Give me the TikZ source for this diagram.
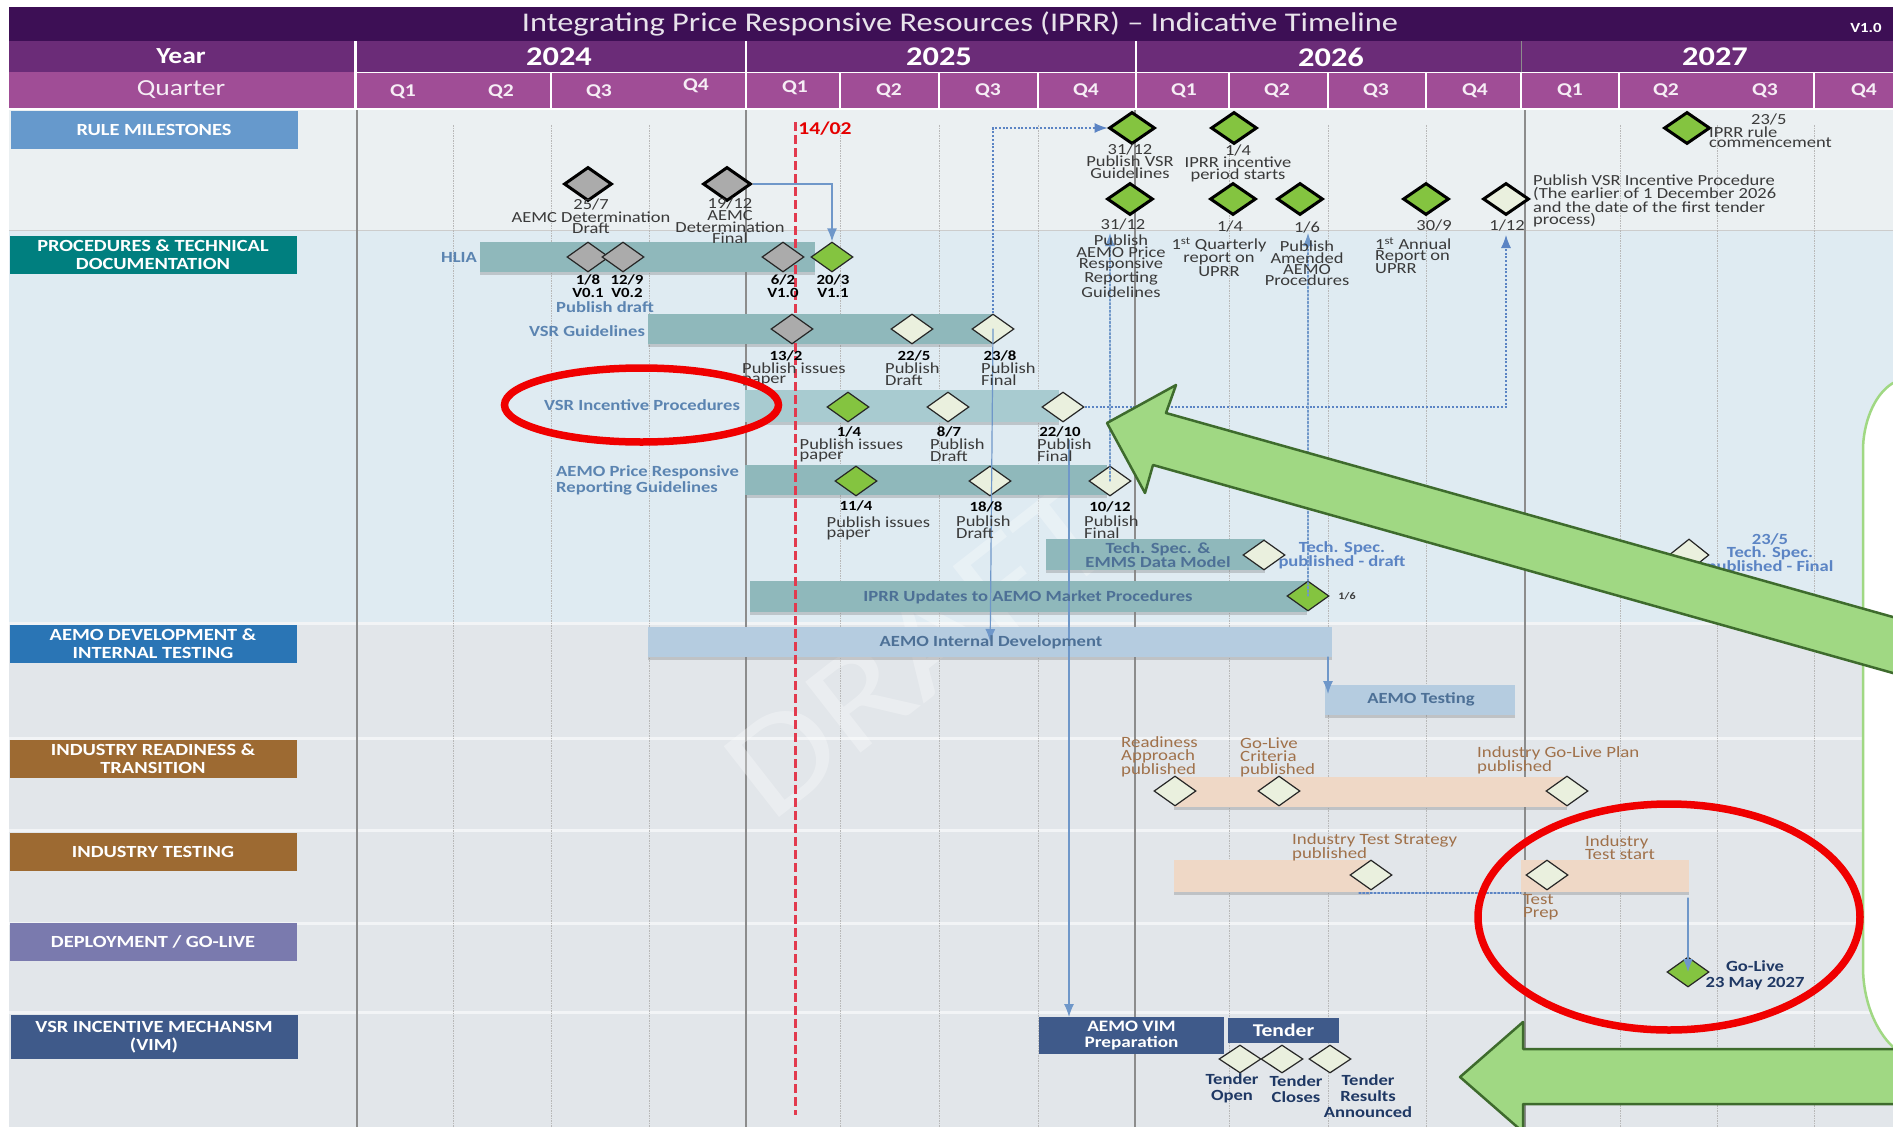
\documentclass[tikz,border=0pt]{standalone}
\usepackage{fontspec}
\setmainfont[FakeStretch=1.2]{Carlito}
\usetikzlibrary{arrows,arrows.meta,calc,shapes.geometric,shadows}
\usepackage{tkz-euclide}
\definecolor{TitleClr}{HTML}{3D0F55}
\definecolor{YearClr}{HTML}{6B2C78}
\definecolor{QuarterClr}{HTML}{A04D96}
\definecolor{RowOneClr}{HTML}{EBF0F2}
\definecolor{RowTwoClr}{HTML}{DFEBF2}
\definecolor{RowThreeClr}{HTML}{E2E6EA}
\definecolor{RuleClr}{HTML}{6699CC}
\definecolor{ProcClr}{HTML}{007F7F}
\definecolor{DevClr}{HTML}{2A75B5}
\definecolor{BrownClr}{HTML}{9D6A32}
\definecolor{DeployClr}{HTML}{7A7AAE}
\definecolor{VimClr}{HTML}{3F5A8A}
\definecolor{BarTealClr}{HTML}{8FB8BB}
\definecolor{BarPaleClr}{HTML}{A8CBD0}
\definecolor{BarBlueClr}{HTML}{B5CCE0}
\definecolor{BarSandClr}{HTML}{EFD8C6}
\definecolor{GreenClr}{HTML}{84C440}
\definecolor{GreyClr}{HTML}{ABABAB}
\definecolor{PaleClr}{HTML}{EAF0DE}
\definecolor{LinkClr}{HTML}{6F97C9}
\definecolor{DotClr}{HTML}{5B84C4}
\definecolor{BlueTxtClr}{HTML}{5B84B1}
\definecolor{NavyTxtClr}{HTML}{1F3864}
\definecolor{BrownTxtClr}{HTML}{A0714A}
\definecolor{DarkTxtClr}{HTML}{3A3A3A}
\definecolor{RingClr}{HTML}{F00000}
\definecolor{TodayClr}{HTML}{E23A4E}
\definecolor{CalloutClr}{HTML}{A0D883}
\definecolor{CalloutEdgeClr}{HTML}{3E6B2D}

\begin{document}
\begin{tikzpicture}[x=1pt,y=-1pt,
  MileBase/.style={diamond,draw=black!85,line width=1.2pt,minimum width=42,minimum height=30,inner sep=0pt},
  MileGreen/.style={MileBase,fill=GreenClr},
  MileGrey/.style={MileBase,fill=GreyClr},
  MilePale/.style={MileBase,fill=PaleClr},
  MileBold/.style={draw=black,line width=3pt,minimum width=46,minimum height=32},
  LblTxt/.style={inner sep=0pt,align=center,text=DarkTxtClr,font=\fontsize{15.4}{10.5}\selectfont},
  LblLeft/.style={LblTxt,anchor=west,align=left},
  LblBold/.style={LblTxt,text=black,font=\fontsize{14}{13}\selectfont\bfseries},
  LblBlue/.style={inner sep=0pt,align=center,text=BlueTxtClr,font=\fontsize{15.5}{16}\selectfont\bfseries},
  LblBrown/.style={LblLeft,text=BrownTxtClr,font=\fontsize{15.7}{13}\selectfont},
  LblNavy/.style={inner sep=0pt,align=center,text=NavyTxtClr,font=\fontsize{15.5}{16}\selectfont\bfseries},
  HeadTxt/.style={inner sep=0pt,text=white,font=\fontsize{23}{23}\selectfont\bfseries},
  YearTxt/.style={HeadTxt,font=\fontsize{27}{27}\selectfont\bfseries},
  QuarterTxt/.style={inner sep=0pt,text=white!90!QuarterClr,font=\fontsize{18}{18}\selectfont\bfseries},
  SectBox/.style={inner sep=0pt,align=center,minimum width=287,minimum height=38,text=white,font=\fontsize{17}{18}\selectfont\bfseries},
  BarBox/.style={rectangle,inner sep=0pt,anchor=west,minimum height=30,drop shadow={shadow xshift=0pt,shadow yshift=-3pt,opacity=.35}},
  VimBox/.style={rectangle,inner sep=0pt,fill=VimClr,text=white,align=center,font=\fontsize{16}{16}\selectfont\bfseries},
  GridDot/.style={line width=.9pt,color=black!28,dashed,dash pattern=on 1.5pt off 1pt},
  GridSolid/.style={line width=1.2pt,color=black!45},
  RowLine/.style={line width=3pt,color=white!55!RowThreeClr},
  LinkTip/.style={-{Latex[length=13pt,width=10pt]}},
  BlueLink/.style={line width=1.2pt,color=LinkClr,LinkTip},
  DotLink/.style={line width=1.1pt,color=DotClr,dashed,dash pattern=on 2pt off 1.75pt},
  RedRing/.style={draw=RingClr,line width=7.5pt}]
\useasboundingbox (0,0) rectangle (1893,1127);
\fill[white] (0,0) rectangle (1893,1127);

\tkzSetUpLine[line width=1pt,color=LinkClr]

\fill[RowOneClr] (9,110) rectangle (1893,230);
\fill[RowTwoClr] (9,230) rectangle (1893,623);
\fill[RowThreeClr] (9,623) rectangle (1893,1127);

\fill[TitleClr] (9,7) rectangle (1893,41);
\fill[YearClr] (9,41) rectangle (354,72);
\fill[YearClr] (357,41) rectangle (1893,72);
\fill[QuarterClr] (9,72) rectangle (354,108);
\fill[QuarterClr] (357,73) rectangle (1893,108);
\draw[white,line width=1.5pt] (357,72.5)--(1136,72.5) (746,41)--(746,108) (1136,41)--(1136,108) (551,73)--(551,108) (840,73)--(840,108) (939,73)--(939,108) (1038,73)--(1038,108) (1229,73)--(1229,108) (1328,73)--(1328,108) (1426,73)--(1426,108) (1521,73)--(1521,108) (1619,73)--(1619,108) (1814,73)--(1814,108);
\draw[black!45,line width=1pt] (1521,41)--(1521,72);

\draw[RowLine] (9,738)--(1893,738) (9,830)--(1893,830) (9,923)--(1893,923) (9,1012)--(1893,1012) (9,623)--(1893,623);
\draw[black!20,line width=1.5pt] (9,230.5)--(1893,230.5);
\draw[GridDot] (453,125)--(453,1127) (551,125)--(551,1127) (649,125)--(649,1127) (840,125)--(840,1127) (939,125)--(939,1127) (1038,125)--(1038,1127) (1229,125)--(1229,1127) (1328,125)--(1328,1127) (1426,125)--(1426,1127) (1620,125)--(1620,1127) (1717,125)--(1717,1127) (1814,125)--(1814,1127);
\draw[GridSolid] (357,110)--(357,1127) (746,110)--(746,1127) (1135,110)--(1135,1127) (1525,110)--(1525,1127);

\node[rotate=38,inner sep=0pt,text=white,opacity=.3,font=\fontsize{140}{140}\selectfont] (Watermark) at (920,650) {DRAFT};

\node[inner sep=0pt,text=white!88!TitleClr,font=\fontsize{27}{27}\selectfont] (Title) at (960,24) {Integrating Price Responsive Resources (IPRR) -- Indicative Timeline};
\node[inner sep=0pt,text=white,font=\fontsize{14}{14}\selectfont\bfseries] (Version) at (1866,28) {V1.0};
\node[HeadTxt] (Year) at (181,56) {Year};
\node[YearTxt] (YearA) at (559,57) {2024};
\node[YearTxt] (YearB) at (939,57) {2025};
\node[YearTxt] (YearC) at (1331,57) {2026};
\node[YearTxt] (YearD) at (1715,57) {2027};
\node[QuarterTxt,font=\fontsize{23}{23}\selectfont] (Quarter) at (181,90) {Quarter};
\node[QuarterTxt] (QaA) at (403,92) {Q1};
\node[QuarterTxt] (QaB) at (501,92) {Q2};
\node[QuarterTxt] (QaC) at (599,92) {Q3};
\node[QuarterTxt] (QaD) at (696,86) {Q4};
\node[QuarterTxt] (QbA) at (795,88) {Q1};
\node[QuarterTxt] (QbB) at (889,91) {Q2};
\node[QuarterTxt] (QbC) at (988,91) {Q3};
\node[QuarterTxt] (QbD) at (1086,91) {Q4};
\node[QuarterTxt] (QcA) at (1184,91) {Q1};
\node[QuarterTxt] (QcB) at (1277,91) {Q2};
\node[QuarterTxt] (QcC) at (1376,91) {Q3};
\node[QuarterTxt] (QcD) at (1475,91) {Q4};
\node[QuarterTxt] (QdA) at (1570,91) {Q1};
\node[QuarterTxt] (QdB) at (1666,91) {Q2};
\node[QuarterTxt] (QdC) at (1765,91) {Q3};
\node[QuarterTxt] (QdD) at (1864,91) {Q4};

\node[SectBox,fill=RuleClr] (SecRule) at (154,130) {RULE MILESTONES};
\node[SectBox,fill=ProcClr] (SecProc) at (153,254.5) {PROCEDURES \& TECHNICAL\\DOCUMENTATION};
\node[SectBox,fill=DevClr] (SecDev) at (153,644) {AEMO DEVELOPMENT \&\\INTERNAL TESTING};
\node[SectBox,fill=BrownClr] (SecReady) at (153,758.5) {INDUSTRY READINESS \&\\TRANSITION};
\node[SectBox,fill=BrownClr] (SecTest) at (153,852) {INDUSTRY TESTING};
\node[SectBox,fill=DeployClr] (SecDeploy) at (153,941.5) {DEPLOYMENT / GO-LIVE};
\node[SectBox,fill=VimClr,minimum height=44] (SecVim) at (154,1037) {VSR INCENTIVE MECHANSM\\(VIM)};

\node[BarBox,fill=BarTealClr,minimum width=335] (BarHlia) at (480,257) {};
\node[BarBox,fill=BarTealClr,minimum width=344] (BarGuide) at (648,329) {};
\node[BarBox,fill=BarPaleClr,minimum width=314,minimum height=32] (BarInc) at (745,406) {};
\node[BarBox,fill=BarTealClr,minimum width=362] (BarPrice) at (745,480) {};
\node[BarBox,fill=BarTealClr,minimum width=219,minimum height=31] (BarTech) at (1046,554.5) {};
\node[BarBox,fill=BarTealClr,minimum width=557,minimum height=31] (BarIprr) at (750,596.5) {};
\node[BarBox,fill=BarBlueClr,minimum width=684] (BarDev) at (648,642) {};
\node[BarBox,fill=BarBlueClr,minimum width=190] (BarAemo) at (1325,700) {};
\node[BarBox,fill=BarSandClr,minimum width=393] (BarReady) at (1174,792) {};
\node[BarBox,fill=BarSandClr,minimum width=196,minimum height=32] (BarTestA) at (1174,876) {};
\node[BarBox,fill=BarSandClr,minimum width=168,minimum height=32] (BarTestB) at (1521,876) {};

\node[VimBox,minimum width=185,minimum height=37] (BoxVim) at (1131.5,1035.5) {AEMO VIM\\Preparation};
\node[VimBox,minimum width=111,minimum height=25,font=\fontsize{18}{18}\selectfont\bfseries] (BoxTender) at (1283.5,1030.5) {Tender};

\draw[TodayClr,line width=3pt,dashed,dash pattern=on 9pt off 4pt] (795,122)--(795,1115);
\node[inner sep=0pt,text=red!90!black,font=\fontsize{18}{18}\selectfont\bfseries] (TxtToday) at (825,129) {14/02};

\tkzDefPoints{1069/440/VimStart,1069/1017/VimEnd,1506/235/IncTip,1110/233/PriceTip,1308/233/AmendTip,1359/893/TestLeft,1521/893/TestRight,1688/898/GoStart,1328/657/AemoStart,1328/694/AemoEnd}

\node[MileBase,MileGrey,MileBold,minimum width=48,minimum height=34] (MDraft) at (588,184) {};
\node[MileBase,MileGrey,MileBold,minimum width=48,minimum height=34] (MFinal) at (727,184) {};
\node[MileBase,MileGreen,MileBold] (MVsr) at (1132,128) {};
\node[MileBase,MileGreen,MileBold] (MPeriod) at (1234,128) {};
\node[MileBase,MileGreen,MileBold] (MCommence) at (1687,128) {};
\node[MileBase,MileGreen,MileBold] (MPrice) at (1130,199) {};
\node[MileBase,MileGreen,MileBold] (MReport) at (1233,199) {};
\node[MileBase,MileGreen,MileBold] (MAmend) at (1300,199) {};
\node[MileBase,MileGreen,MileBold] (MAnnual) at (1426,199) {};
\node[MileBase,MilePale,MileBold] (MPubInc) at (1506,199) {};

\node[MileGrey] (MHliaA) at (588,257) {};
\node[MileGrey] (MHliaB) at (623,257) {};
\node[MileGrey] (MHliaC) at (783,257) {};
\node[MileGreen] (MHliaD) at (832,257) {};
\node[MileGrey] (MGuideA) at (792,329) {};
\node[MilePale] (MGuideB) at (912,329) {};
\node[MilePale] (MGuideC) at (993,329) {};
\node[MileGreen] (MIncA) at (848,407) {};
\node[MilePale] (MIncB) at (948,407) {};
\node[MilePale] (MIncC) at (1063,407) {};
\node[MileGreen] (MPriceA) at (856,481) {};
\node[MilePale] (MPriceB) at (990,481) {};
\node[MilePale] (MPriceC) at (1110,481) {};
\node[MilePale] (MTechA) at (1264,555) {};
\node[MilePale,minimum width=40,minimum height=32] (MTechB) at (1689,555) {};
\node[MileGreen] (MIprr) at (1308,596) {};
\node[MilePale] (MReadyA) at (1175,791) {};
\node[MilePale] (MReadyB) at (1279,791) {};
\node[MilePale] (MReadyC) at (1567,791) {};
\node[MilePale] (MTestA) at (1371,875) {};
\node[MilePale] (MTestB) at (1547,875) {};
\node[MileGreen] (MGoLive) at (1688,972) {};
\node[MilePale,minimum height=28] (MTendA) at (1240,1059) {};
\node[MilePale,minimum height=28] (MTendB) at (1282,1059) {};
\node[MilePale,minimum height=28] (MTendC) at (1330,1059) {};

\draw[BlueLink] (MFinal.east) -| (MHliaD.north);
\draw[DotLink,LinkTip] (MGuideC.north) |- (MVsr.west);
\draw[DotLink,LinkTip] (MIncC.east) -| (IncTip);
\tkzDrawSegments[DotLink,LinkTip,color=LinkClr](MPriceC,PriceTip MIprr,AmendTip)
\tkzDrawSegments[DotLink](TestLeft,TestRight)
\tkzDrawSegments[BlueLink](MGuideC,BarDev VimStart,VimEnd AemoStart,AemoEnd GoStart,MGoLive)

\node[LblTxt] (TxtDraft) at (591,216.5) {25/7\\AEMC Determination\\Draft};
\node[LblTxt] (TxtFinal) at (730,221) {19/12\\AEMC\\Determination\\Final};
\node[LblTxt] (TxtVsr) at (1130,161) {31/12\\Publish VSR\\Guidelines};
\node[LblTxt] (TxtPeriod) at (1238,163.5) {1/4\\IPRR incentive\\period starts};
\node[LblLeft] (TxtCommence) at (1709,131) {\hspace*{42pt}23/5\\IPRR rule\\commencement};
\node[LblTxt] (TxtPriceDate) at (1123,224) {31/12};
\node[LblTxt] (TxtPrice) at (1121,266) {Publish\\AEMO Price\\Responsive\\Reporting\\Guidelines};
\node[LblTxt] (TxtReportDate) at (1230,226) {1/4};
\node[LblTxt] (TxtReport) at (1219,257) {1\textsuperscript{st} Quarterly\\report on\\UPRR};
\node[LblTxt] (TxtAmendDate) at (1307,227) {1/6};
\node[LblTxt] (TxtAmend) at (1307,263.5) {Publish\\Amended\\AEMO\\Procedures};
\node[LblTxt] (TxtAnnualDate) at (1434,225) {30/9};
\node[LblLeft] (TxtAnnual) at (1375,255.5) {1\textsuperscript{st} Annual\\Report on\\UPRR};
\node[LblTxt] (TxtPubDate) at (1507,225) {1/12};
\node[LblLeft] (TxtPub) at (1533,201) {Publish VSR Incentive Procedure\\(The earlier of 1 December 2026\\and the date of the first tender\\process)};

\node[LblBlue] (TxtHlia) at (459,257) {HLIA};
\node[LblBold] (TxtHliaA) at (588,286.5) {1/8\\V0.1};
\node[LblBold] (TxtHliaB) at (627,286.5) {12/9\\V0.2};
\node[LblBold] (TxtHliaC) at (783,286.5) {6/2\\V1.0};
\node[LblBold] (TxtHliaD) at (833,286.5) {20/3\\V1.1};
\node[LblBlue] (TxtHliaPub) at (605,307) {Publish draft};

\node[LblBlue] (TxtGuide) at (587,331) {VSR Guidelines};
\node[LblBold] (TxtGuideA) at (786,356) {13/2};
\node[LblLeft] (TxtGuideAa) at (742,374.5) {Publish issues\\paper};
\node[LblBold] (TxtGuideB) at (914,356) {22/5};
\node[LblLeft] (TxtGuideBa) at (885,374) {Publish\\Draft};
\node[LblBold] (TxtGuideC) at (1000,356) {23/8};
\node[LblLeft] (TxtGuideCa) at (981,374) {Publish\\Final};

\node[LblBlue] (TxtInc) at (642,405) {VSR Incentive Procedures};
\node[LblBold] (TxtIncA) at (849,432) {1/4};
\node[LblLeft] (TxtIncAa) at (799.5,450.5) {Publish issues\\paper};
\node[LblBold] (TxtIncB) at (949,432) {8/7};
\node[LblLeft] (TxtIncBa) at (930,450) {Publish\\Draft};
\node[LblBold] (TxtIncC) at (1060,432) {22/10};
\node[LblLeft] (TxtIncCa) at (1037,450) {Publish\\Final};

\node[LblBlue,anchor=west,align=left] (TxtPriceGuide) at (556,480) {AEMO Price Responsive\\Reporting Guidelines};
\node[LblBold] (TxtPriceA) at (856,506) {11/4};
\node[LblLeft] (TxtPriceAa) at (826.5,528.5) {Publish issues\\paper};
\node[LblBold] (TxtPriceB) at (986,507) {18/8};
\node[LblLeft] (TxtPriceBa) at (956,527) {Publish\\Draft};
\node[LblBold] (TxtPriceC) at (1110,507) {10/12};
\node[LblLeft] (TxtPriceCa) at (1084,527) {Publish\\Final};

\node[LblBlue,font=\fontsize{15.5}{11}\selectfont\bfseries,text=BlueTxtClr!85!black] (TxtTech) at (1158,555) {Tech. Spec. \&\\EMMS Data Model};
\node[LblBlue,font=\fontsize{15.5}{12}\selectfont\bfseries,text=DotClr] (TxtTechA) at (1342,555) {Tech. Spec.\\published - draft};
\node[LblBlue,font=\fontsize{15.5}{12.5}\selectfont\bfseries,text=DotClr] (TxtTechB) at (1770,554) {23/5\\Tech. Spec.\\published - Final};
\node[LblBlue,text=BlueTxtClr!85!black] (TxtIprr) at (1028,597) {IPRR Updates to AEMO Market Procedures};
\node[LblTxt,font=\fontsize{10}{10}\selectfont\bfseries] (TxtIprrDate) at (1347,596) {1/6};
\node[LblBlue,text=BlueTxtClr!85!black] (TxtDev) at (991,642) {AEMO Internal Development};
\node[LblBlue,text=BlueTxtClr!85!black] (TxtAemo) at (1421,699) {AEMO Testing};

\node[LblBrown] (TxtReadyA) at (1121,757) {Readiness\\Approach\\published};
\node[LblBrown] (TxtReadyB) at (1240,757) {Go-Live\\Criteria\\published};
\node[LblBrown] (TxtReadyC) at (1477,760.5) {Industry Go-Live Plan\\published};
\node[LblBrown] (TxtTestA) at (1292,847.5) {Industry Test Strategy\\published};
\node[LblBrown] (TxtTestB) at (1585,847.5) {Industry\\Test start};
\node[LblBrown] (TxtTestC) at (1523,907.5) {Test\\Prep};
\node[LblNavy] (TxtGoLive) at (1755,975) {Go-Live\\23 May 2027};
\node[LblNavy] (TxtTendA) at (1232,1088) {Tender\\Open};
\node[LblNavy] (TxtTendB) at (1296,1089) {Tender\\Closes};
\node[LblNavy] (TxtTendC) at (1368,1096) {Tender\\Results\\Announced};

\filldraw[fill=white,draw=CalloutClr,line width=2.5pt] (1900,383) -- (1893,383) .. controls (1873,395) and (1863,425) .. (1863,450) -- (1863,967) .. controls (1863,1000) and (1875,1030) .. (1893,1047) -- (1900,1047) -- cycle;

\draw[RedRing] (641.5,405) ellipse [x radius=137,y radius=37];
\draw[RedRing] (1669,917) ellipse [x radius=191,y radius=113];

\tkzDefPoints{1107/423/Ca,1176/385/Cb,1166/413/Cc,1900/619/Cd,1900/675/Ce,1153/465/Cf,1145/493/Cg}
\tkzDefPoints{1460/1077/Da,1523/1022/Db,1523/1049/Dc,1900/1049/Dd,1900/1104/De,1523/1104/Df,1523/1132/Dg}
\tkzFillPolygon[fill=CalloutClr](Ca,Cb,Cc,Cd,Ce,Cf,Cg)
\tkzDrawPolygon[color=CalloutEdgeClr,line width=2.5pt](Ca,Cb,Cc,Cd,Ce,Cf,Cg)
\tkzFillPolygon[fill=CalloutClr](Da,Db,Dc,Dd,De,Df,Dg)
\tkzDrawPolygon[color=CalloutEdgeClr,line width=2.5pt](Da,Db,Dc,Dd,De,Df,Dg)

\end{tikzpicture}
\end{document}
